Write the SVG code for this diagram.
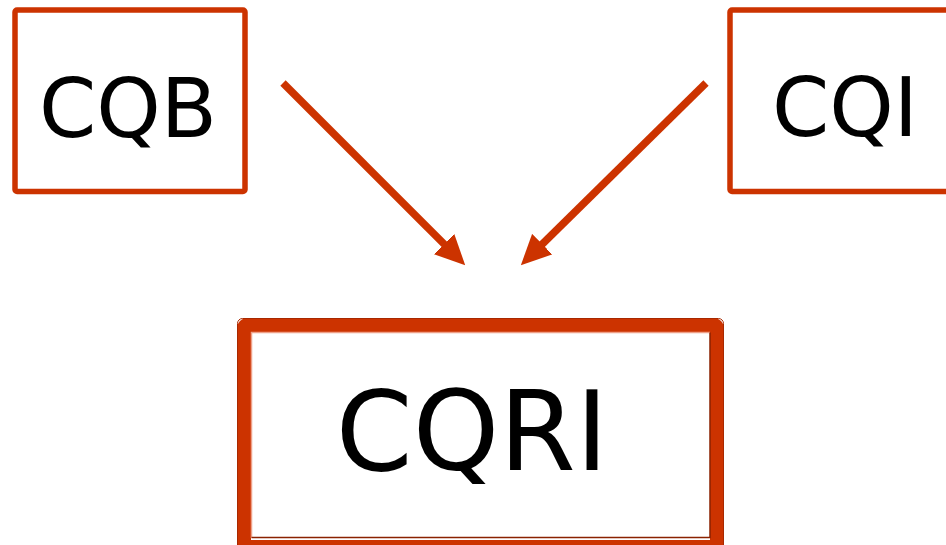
<svg xmlns="http://www.w3.org/2000/svg" width="946" height="545" viewBox="0 0 946 545">
<style>
.box{fill:#ffffff;stroke:#cc3300;stroke-width:5.5}
.lbl{font-family:"DejaVu Sans","Verdana",sans-serif;fill:#000000;text-anchor:middle}
.conn{stroke:#cc3300;stroke-width:7.5;fill:none;marker-end:url(#ah)}
</style>
<defs>
<marker id="ah" markerUnits="userSpaceOnUse" markerWidth="30" markerHeight="30" viewBox="0 -13 26 26" refX="6" refY="0" orient="auto">
<path d="M0,-12.5 L26,0 L0,12.5 z" fill="#cc3300"/>
</marker>
</defs>
<rect width="946" height="545" fill="#ffffff"/>
<g id="CQB">
<rect class="box" x="15" y="10" width="230" height="181.5" rx="2"/>
<text class="lbl" x="128" y="137" font-size="82">CQB</text>
</g>
<g id="CQI">
<rect class="box" x="730" y="10" width="240" height="181.5" rx="2"/>
<text class="lbl" x="845" y="136" font-size="82">CQI</text>
</g>
<g id="CQRI">
<rect x="244" y="325" width="473" height="222" rx="3" fill="#ffffff" stroke="#cc3300" stroke-width="14"/>
<rect x="237.5" y="318.5" width="486" height="240" rx="5" fill="none" stroke="#a82800" stroke-width="1"/>
<path d="M251.5,538 L251.5,332.5 L710,332.5" fill="none" stroke="#eea088" stroke-width="1.5"/>
<path d="M710,332.5 L710,537.5 L251.5,537.5" fill="none" stroke="#8a2200" stroke-width="1.5"/>
<text class="lbl" x="472" y="470" font-size="110">CQRI</text>
</g>
<g id="connectors">
<line class="conn" x1="283" y1="83" x2="448.9" y2="248.9"/>
<line class="conn" x1="706" y1="83" x2="537.3" y2="249"/>
</g>
</svg>
